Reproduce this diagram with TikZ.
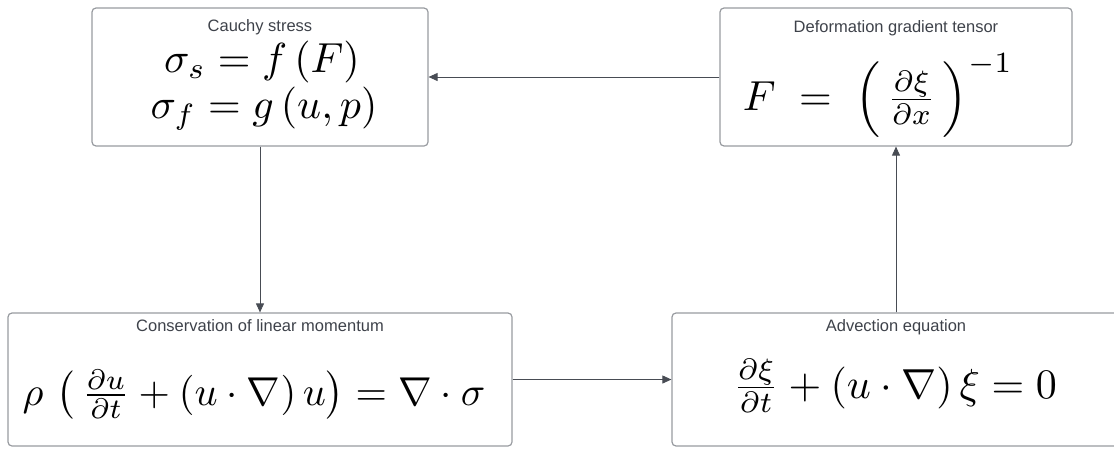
\documentclass[tikz,border=0pt]{standalone}
\usepackage{amsmath}
\usepackage{fontspec}
\setsansfont{Liberation Sans}
\usetikzlibrary{arrows.meta,positioning}

\definecolor{boxgray}{RGB}{152,155,160}
\definecolor{txtgray}{RGB}{62,66,74}
\definecolor{arrgray}{RGB}{72,76,84}

\begin{document}
\begin{tikzpicture}[x=1pt, y=-1pt,
    >={Triangle[length=9pt,width=8pt]},
    box/.style={draw=boxgray, line width=1.2pt, rounded corners=4pt,
        minimum height=138pt, inner sep=0pt},
    ttl/.style={font=\sffamily\fontsize{16.5}{18}\selectfont, text=txtgray,
        anchor=base, inner sep=0pt},
    eqn/.style={scale=4.2, anchor=base, inner sep=0pt},
    link/.style={->, draw=arrgray, fill=arrgray, line width=0.9pt}
]
    \useasboundingbox (0,0) rectangle (1114,450);

    % boxes
    \node[box, minimum width=336pt] (cs) at (260,77) {};
    \node[box, minimum width=352pt] (dg) at (896,77) {};
    \node[box, minimum width=504pt, minimum height=133pt] (cm) at (260,379.5) {};
    \node[box, minimum width=448pt, minimum height=133pt] (ae) at (896,379.5) {};

    % titles
    \node[ttl] (cs-t) at ([yshift=-24pt]cs.north) {Cauchy stress};
    \node[ttl] (dg-t) at ([yshift=-25pt]dg.north) {Deformation gradient tensor};
    \node[ttl] (cm-t) at ([yshift=-19pt]cm.north) {Conservation of linear momentum};
    \node[ttl] (ae-t) at ([yshift=-19pt]ae.north) {Advection equation};

    % equations
    \node[eqn] (cs-e1) at (262,72) {$\sigma_s = f\,(F)$};
    \node[eqn] (cs-e2) at (264,118) {$\sigma_f = g\,(u,p)$};
    \node[eqn] (dg-e) at (878,110) {$F \;=\; \left(\,\frac{\partial\xi}{\partial x}\,\right)^{-1}$};
    \node[eqn, scale=0.96] (cm-e) at (254,405) {$\rho\,\left(\,\frac{\partial u}{\partial t} + (u\cdot\nabla)\,u\right) = \nabla\cdot\sigma$};
    \node[eqn] (ae-e) at (895,398) {$\frac{\partial\xi}{\partial t} + (u\cdot\nabla)\,\xi = 0$};

    % connectors
    \draw[link] (dg.west) -- (cs.east);
    \draw[link] (cs.south) -- (cm.north);
    \draw[link] (cm.east) -- (ae.west);
    \draw[link] (ae.north) -- (dg.south);
\end{tikzpicture}
\end{document}
